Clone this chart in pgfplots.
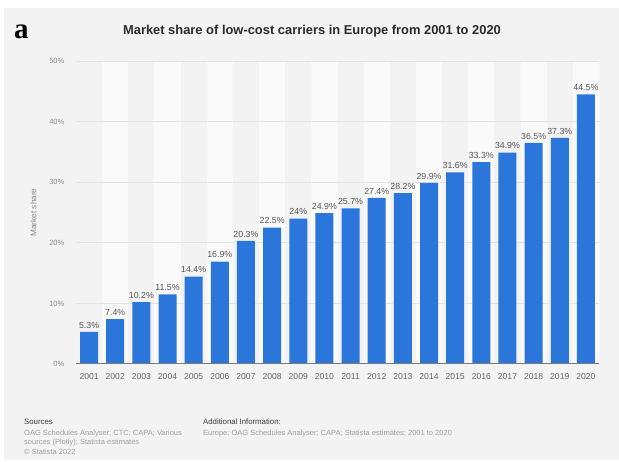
\documentclass[border=0pt]{standalone}
\usepackage{fontspec}
\setmainfont{Liberation Sans}
\newfontfamily\serifbold{Liberation Serif}
\usepackage{pgfplots}
\pgfplotsset{compat=1.18}

\definecolor{panel}{HTML}{F3F3F3}
\definecolor{stripe}{HTML}{FAFAFA}
\definecolor{gridc}{HTML}{E4E4E4}
\definecolor{barblue}{HTML}{2A76DA}
\definecolor{basec}{HTML}{7A7A7A}
\definecolor{tickc}{HTML}{666666}
\definecolor{ytickc}{HTML}{8A8A8A}
\definecolor{valc}{HTML}{555555}
\definecolor{titlec}{HTML}{2B2B2B}
\definecolor{footc}{HTML}{A0A0A0}
\definecolor{headc}{HTML}{3A3A3A}

\begin{document}
\begin{tikzpicture}[x=1pt,y=1pt]
\useasboundingbox (0,0) rectangle (619,462);
\fill[white] (0,0) rectangle (619,462);
\fill[panel] (4,2) rectangle (619,454);

% panel label and title
\node[anchor=base west, inner sep=0pt] at (14,423)
  {\fontsize{29}{30}\selectfont\serifbold\bfseries a};
\node[text=titlec, inner sep=0pt] at (312,431)
  {\fontsize{12.9}{14}\selectfont\bfseries Market share of low-cost carriers in Europe from 2001 to 2020};

\begin{axis}[
  at={(76pt,98pt)}, anchor=south west,
  scale only axis,
  width=523pt, height=303pt,
  xmin=-0.5, xmax=19.5,
  ymin=0, ymax=50,
  ytick={0,10,20,30,40,50},
  yticklabel={\pgfmathprintnumber{\tick}\%},
  xtick=data,
  xticklabels={2001,2002,2003,2004,2005,2006,2007,2008,2009,2010,
               2011,2012,2013,2014,2015,2016,2017,2018,2019,2020},
  /pgf/number format/assume math mode=true,
  major tick length=0pt,
  axis x line*=bottom, axis y line*=left,
  x axis line style={draw=none},
  y axis line style={draw=none},
  xticklabel style={text=tickc, font=\fontsize{8.6}{10}\selectfont, yshift=-6pt},
  yticklabel style={text=ytickc, font=\fontsize{7.6}{9}\selectfont, xshift=-8pt},
  ylabel={Market share},
  ylabel style={text=ytickc, font=\fontsize{8.2}{9}\selectfont, at={(axis description cs:0,0.5)}, yshift=36pt, anchor=south},
  ybar, bar width=18pt,
  nodes near coords={\pgfmathprintnumber[fixed,precision=1]{\pgfplotspointmeta}\%},
  nodes near coords style={text=valc, font=\fontsize{8.8}{10}\selectfont, inner sep=1pt, yshift=2.5pt},
]
% alternating column bands and grid
\pgfplotsinvokeforeach{1,3,5,7,9,11,13,15,17,19}{
  \fill[stripe] (axis cs:#1-0.5,0) rectangle (axis cs:#1+0.5,50);
}
\pgfplotsinvokeforeach{10,20,30,40,50}{
  \draw[gridc, line width=0.8pt] (axis cs:-0.5,#1) -- (axis cs:19.5,#1);
}
\addplot[fill=barblue, draw=none] coordinates {
  (0,5.3) (1,7.4) (2,10.2) (3,11.5) (4,14.4) (5,16.9) (6,20.3) (7,22.5)
  (8,24) (9,24.9) (10,25.7) (11,27.4) (12,28.2) (13,29.9) (14,31.6)
  (15,33.3) (16,34.9) (17,36.5) (18,37.3) (19,44.5)
};
\draw[basec, line width=1.5pt] (axis cs:-0.5,0) -- (axis cs:19.5,0);
\end{axis}

% footer
\begin{scope}[every node/.style={anchor=base west, inner sep=0pt}]
\node[text=headc] at (24,37) {\fontsize{7.8}{9}\selectfont Sources};
\node[text=footc] at (24,26.5) {\fontsize{7.5}{9}\selectfont OAG Schedules Analyser; CTC; CAPA; Various};
\node[text=footc] at (24,17) {\fontsize{7.5}{9}\selectfont sources (Plotly); Statista estimates};
\node[text=footc] at (24,7.5) {\fontsize{7.5}{9}\selectfont \textcopyright\ Statista 2022};
\node[text=headc] at (203,37) {\fontsize{7.8}{9}\selectfont Additional Information:};
\node[text=footc] at (203,26.5) {\fontsize{7.5}{9}\selectfont Europe; OAG Schedules Analyser; CAPA; Statista estimates; 2001 to 2020};
\end{scope}
\end{tikzpicture}
\end{document}
